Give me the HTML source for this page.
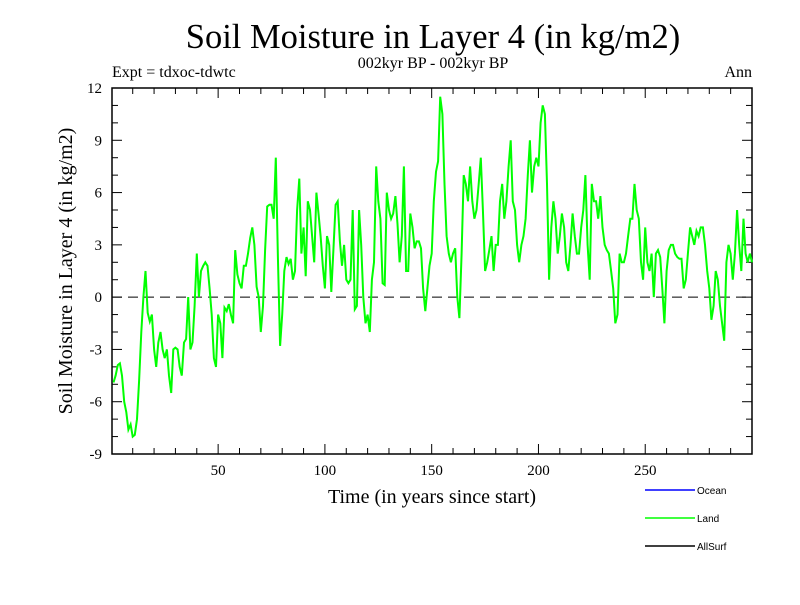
<!DOCTYPE html>
<html><head><meta charset="utf-8"><style>
body{margin:0;background:#fff}
svg text{font-family:"Liberation Serif",serif}
</style></head><body>
<svg id="c" width="800" height="600" xmlns="http://www.w3.org/2000/svg">
<text x="433" y="48" font-size="34.5" text-anchor="middle">Soil Moisture in Layer 4 (in kg/m2)</text>
<text x="433" y="68" font-size="16" text-anchor="middle">002kyr BP - 002kyr BP</text>
<text x="112" y="77" font-size="16">Expt = tdxoc-tdwtc</text>
<text x="752" y="77" font-size="16" text-anchor="end">Ann</text>
<text x="432" y="503" font-size="20" text-anchor="middle">Time (in years since start)</text>
<text transform="translate(72,271) rotate(-90)" font-size="20" text-anchor="middle">Soil Moisture in Layer 4 (in kg/m2)</text>
<g id="axes"></g>
<g id="plot"></g>
<g>
<line x1="645" y1="490" x2="695" y2="490" stroke="#0000ff" stroke-width="1.5"/>
<text x="697" y="494" font-size="10" style="font-family:'Liberation Sans',sans-serif">Ocean</text>
<line x1="645" y1="518" x2="695" y2="518" stroke="#00ff00" stroke-width="1.5"/>
<text x="697" y="522" font-size="10" style="font-family:'Liberation Sans',sans-serif">Land</text>
<line x1="645" y1="546" x2="695" y2="546" stroke="#000" stroke-width="1.5"/>
<text x="697" y="550" font-size="10" style="font-family:'Liberation Sans',sans-serif">AllSurf</text>
</g>
</svg>
<script>
const landValues=[-4.9,-4.5,-3.9,-3.8,-4.5,-6.0,-6.6,-7.6,-7.3,-8.0,-7.9,-7.0,-4.8,-2.0,0.0,1.5,-0.9,-1.4,-1.0,-3.0,
-4.0,-2.6,-2.0,-3.0,-3.5,-3.0,-4.5,-5.5,-3.0,-2.9,-3.0,-4.0,-4.5,-2.6,-2.4,0.0,-3.0,-2.6,-0.5,2.5,
0.0,1.5,1.8,2.0,1.8,0.5,-1.0,-3.5,-4.0,-1.0,-1.5,-3.5,-0.6,-0.8,-0.4,-1.0,-1.5,2.7,1.3,0.8,
0.5,1.8,1.8,2.5,3.4,4.0,3.0,0.6,0.0,-2.0,-0.5,2.7,5.2,5.3,5.3,4.5,8.0,2.3,-2.8,-1.0,
1.5,2.3,1.9,2.2,1.0,1.5,5.0,6.8,2.5,4.0,1.2,5.5,5.0,3.5,2.0,6.0,4.8,3.5,1.8,0.5,
3.5,3.0,0.3,2.7,5.3,5.5,3.2,1.8,3.0,1.0,0.8,1.0,5.0,-0.7,-0.5,5.0,3.0,0.0,-1.5,-1.0,
-2.0,1.0,2.0,7.5,5.5,4.5,0.8,0.7,6.0,5.0,4.5,4.8,5.8,4.2,2.0,3.5,7.5,1.5,1.5,4.8,
4.0,2.8,3.2,3.2,2.8,0.5,-0.8,0.5,1.8,2.5,5.5,7.2,7.8,11.5,10.5,6.5,3.5,2.5,2.0,2.5,
2.8,0.0,-1.2,2.5,7.0,6.5,5.5,7.5,5.5,4.5,5.0,6.5,8.0,5.0,1.5,2.0,2.7,3.5,1.5,3.0,
3.0,5.5,6.5,4.5,5.5,7.5,9.0,5.5,5.0,3.0,2.0,3.0,3.5,4.5,7.0,9.0,6.0,7.5,8.0,7.5,
10.0,11.0,10.5,6.5,1.0,4.0,5.5,4.5,2.5,3.5,4.8,4.0,2.0,1.5,3.0,4.8,3.5,2.5,2.5,4.0,
5.0,7.0,3.0,1.0,6.5,5.5,5.5,4.5,5.8,4.0,3.0,2.7,2.5,1.5,0.5,-1.5,-1.0,2.5,2.0,2.0,
2.5,3.5,4.5,4.5,6.5,5.0,4.5,2.0,1.0,4.0,2.0,1.5,2.5,0.0,2.5,2.7,2.3,0.5,-1.5,1.5,
2.7,3.0,3.0,2.5,2.3,2.2,2.2,0.5,1.0,2.5,4.0,3.5,3.0,3.8,3.5,4.0,4.0,3.0,1.5,0.5,
-1.3,-0.5,1.5,1.0,-0.5,-1.5,-2.5,2.0,3.0,2.5,1.0,2.5,5.0,3.0,1.5,4.5,2.5,2.0,2.5,2.0];
const yTickLabels=[-9,-6,-3,0,3,6,9,12];
const xTickLabels=[50,100,150,200,250];
const NS="http://www.w3.org/2000/svg";
const L=112,R=752,T=88,B=454,X0=0.3,X1=300,Y0=-9,Y1=12;
const sx=v=>L+(v-X0)/(X1-X0)*(R-L);
const sy=v=>B-(v-Y0)/(Y1-Y0)*(B-T);
const axes=document.getElementById('axes'),plot=document.getElementById('plot');
function mk(tag,at,parent){const e=document.createElementNS(NS,tag);for(const k in at)e.setAttribute(k,at[k]);parent.appendChild(e);return e;}
const frame=mk('rect',{x:L,y:T,width:R-L,height:B-T,fill:'none',stroke:'#000','stroke-width':1.5},axes);


for(let v=Y0;v<=Y1;v++){const len=v%3===0?10:6;const y=sy(v);
 const t1=mk('line',{x1:L,x2:L+len,y1:y,y2:y,stroke:'#000','stroke-width':1},axes);
 
 
 const t2=mk('line',{x1:R-len,x2:R,y1:y,y2:y,stroke:'#000','stroke-width':1},axes);
 
 }
yTickLabels.forEach(v=>{const t=mk('text',{x:102,y:sy(v)+5,'font-size':15,'text-anchor':'end'},axes);t.textContent=v;
 
 });
for(let v=10;v<=300;v+=10){const len=v%50===0?10:6;const x=sx(v);
 const t1=mk('line',{x1:x,x2:x,y1:B,y2:B-len,stroke:'#000','stroke-width':1},axes);
 
 
 const t2=mk('line',{x1:x,x2:x,y1:T,y2:T+len,stroke:'#000','stroke-width':1},axes);
 
 }
xTickLabels.forEach(v=>{const t=mk('text',{x:sx(v),y:475,'font-size':15,'text-anchor':'middle'},axes);t.textContent=v;
 
 });
const zl=mk('line',{x1:L,x2:R,y1:sy(0),y2:sy(0),stroke:'#000','stroke-width':1,'stroke-dasharray':'10,6'},axes);


const pts=landValues.map((v,i)=>sx(i+1).toFixed(1)+','+sy(v).toFixed(1)).join(' ');
const line=mk('polyline',{points:pts,fill:'none',stroke:'#00ff00','stroke-width':2},plot);


</script>
</body></html>
